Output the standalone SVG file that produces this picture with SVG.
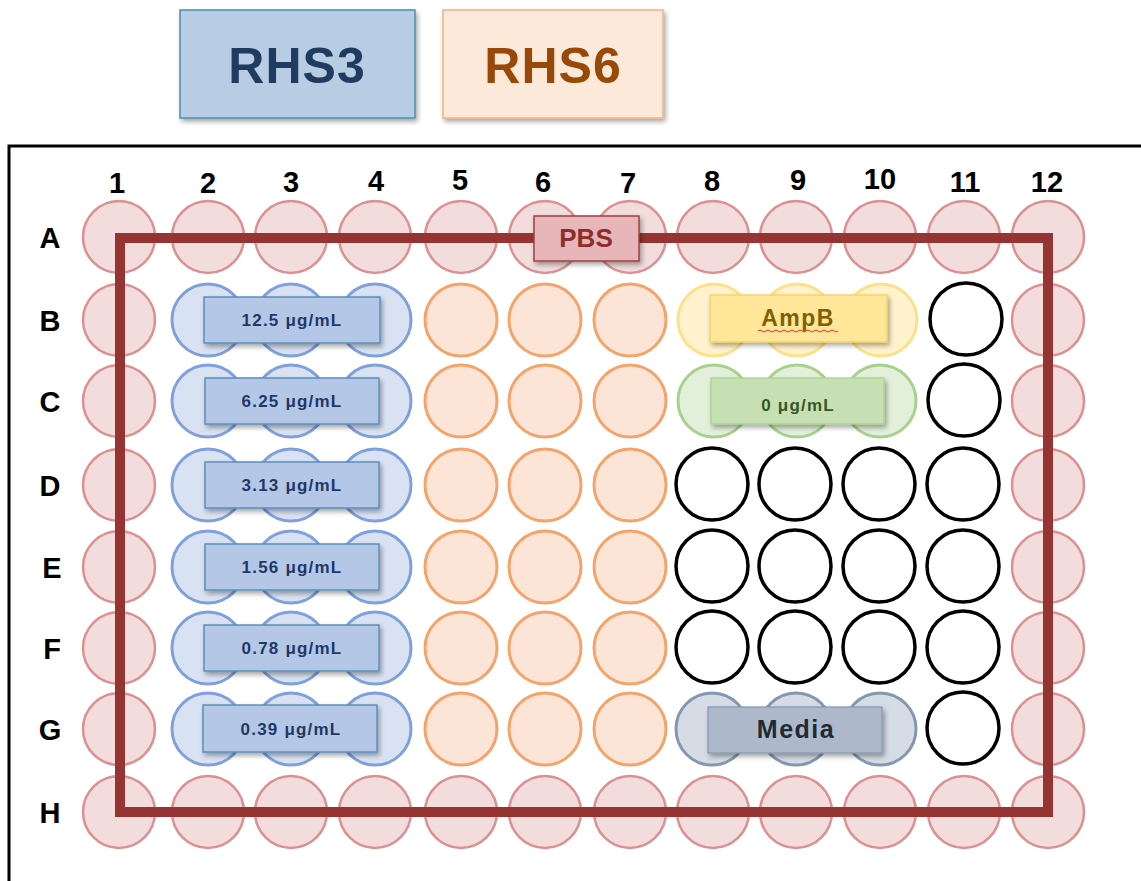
<svg xmlns="http://www.w3.org/2000/svg" width="1141" height="881" viewBox="0 0 1141 881">
<defs>
<filter id="sh" x="-20%" y="-30%" width="140%" height="170%">
<feGaussianBlur in="SourceAlpha" stdDeviation="2.5"/>
<feOffset dx="2" dy="3" result="b"/>
<feComponentTransfer><feFuncA type="linear" slope="0.35"/></feComponentTransfer>
<feMerge><feMergeNode/><feMergeNode in="SourceGraphic"/></feMerge>
</filter>
</defs>
<style>
text{font-family:"Liberation Sans",Arial,sans-serif;font-weight:bold;text-anchor:middle}
.lbl{font-size:29px;fill:#000}
.pk{fill:#f2dcdc;stroke:#dc9090;stroke-width:2.5}
.bl{fill:#d9e2f3;stroke:#7fa0dc;stroke-width:3}
.or{fill:#fce4d6;stroke:#f4a46a;stroke-width:3}
.ye{fill:#fff2cc;stroke:#ffe08a;stroke-width:3}
.gr{fill:#e2efda;stroke:#a9d18e;stroke-width:3}
.me{fill:#d6dce5;stroke:#8497b0;stroke-width:3}
.bk{fill:#fff;stroke:#000;stroke-width:3.5}
.bbox{fill:#b4c7e7;stroke:#5b8fbd;stroke-width:1.5}
.btx{font-size:17px;fill:#1f3864;letter-spacing:1.2px}
</style>
<rect width="1141" height="881" fill="#fff"/>
<g id="legend-rhs3">
<rect x="180" y="10" width="235" height="108" fill="#b8cce4" stroke="#4a90aa" stroke-width="1.5" filter="url(#sh)"/>
<text x="297" y="83" font-size="50" fill="#1f3b60" letter-spacing="1">RHS3</text>
</g>
<g id="legend-rhs6">
<rect x="443" y="10" width="220" height="108" fill="#fde9d9" stroke="#f4b183" stroke-width="1.5" filter="url(#sh)"/>
<text x="553" y="83" font-size="50" fill="#984807" letter-spacing="1">RHS6</text>
</g>
<path id="plate" d="M9,881 V146 H1141" fill="none" stroke="#000" stroke-width="3"/>
<g id="col-labels" class="lbl">
<text class="lbl" x="117" y="193">1</text>
<text class="lbl" x="208" y="193">2</text>
<text class="lbl" x="291" y="192">3</text>
<text class="lbl" x="376" y="191">4</text>
<text class="lbl" x="460" y="190">5</text>
<text class="lbl" x="543" y="192">6</text>
<text class="lbl" x="628" y="193">7</text>
<text class="lbl" x="712" y="191">8</text>
<text class="lbl" x="798" y="190">9</text>
<text class="lbl" x="880" y="189">10</text>
<text class="lbl" x="965" y="192">11</text>
<text class="lbl" x="1047" y="192">12</text>
</g>
<g id="row-labels">
<text class="lbl" x="50" y="248">A</text>
<text class="lbl" x="50" y="331">B</text>
<text class="lbl" x="50" y="412">C</text>
<text class="lbl" x="50" y="496">D</text>
<text class="lbl" x="52" y="578">E</text>
<text class="lbl" x="52" y="659">F</text>
<text class="lbl" x="50" y="740">G</text>
<text class="lbl" x="50" y="823">H</text>
</g>
<g id="pbs-wells">
<circle class="pk" cx="119" cy="237" r="36"/><circle class="pk" cx="208" cy="237" r="36"/><circle class="pk" cx="291" cy="237" r="36"/><circle class="pk" cx="375" cy="237" r="36"/><circle class="pk" cx="461" cy="237" r="36"/><circle class="pk" cx="545" cy="237" r="36"/><circle class="pk" cx="630" cy="237" r="36"/><circle class="pk" cx="713" cy="237" r="36"/><circle class="pk" cx="796" cy="237" r="36"/><circle class="pk" cx="880" cy="237" r="36"/><circle class="pk" cx="964" cy="237" r="36"/><circle class="pk" cx="1048" cy="237" r="36"/>
<circle class="pk" cx="119" cy="812" r="36"/><circle class="pk" cx="208" cy="812" r="36"/><circle class="pk" cx="291" cy="812" r="36"/><circle class="pk" cx="375" cy="812" r="36"/><circle class="pk" cx="461" cy="812" r="36"/><circle class="pk" cx="545" cy="812" r="36"/><circle class="pk" cx="630" cy="812" r="36"/><circle class="pk" cx="713" cy="812" r="36"/><circle class="pk" cx="796" cy="812" r="36"/><circle class="pk" cx="880" cy="812" r="36"/><circle class="pk" cx="964" cy="812" r="36"/><circle class="pk" cx="1048" cy="812" r="36"/>
<circle class="pk" cx="119" cy="320" r="36"/><circle class="pk" cx="119" cy="401" r="36"/><circle class="pk" cx="119" cy="485" r="36"/><circle class="pk" cx="119" cy="567" r="36"/><circle class="pk" cx="119" cy="648" r="36"/><circle class="pk" cx="119" cy="729" r="36"/>
<circle class="pk" cx="1048" cy="320" r="36"/><circle class="pk" cx="1048" cy="401" r="36"/><circle class="pk" cx="1048" cy="485" r="36"/><circle class="pk" cx="1048" cy="567" r="36"/><circle class="pk" cx="1048" cy="648" r="36"/><circle class="pk" cx="1048" cy="729" r="36"/>
</g>
<g id="rhs3-wells">
<circle class="bl" cx="208" cy="320" r="36"/><circle class="bl" cx="291" cy="320" r="36"/><circle class="bl" cx="375" cy="320" r="36"/>
<circle class="bl" cx="208" cy="401" r="36"/><circle class="bl" cx="291" cy="401" r="36"/><circle class="bl" cx="375" cy="401" r="36"/>
<circle class="bl" cx="208" cy="485" r="36"/><circle class="bl" cx="291" cy="485" r="36"/><circle class="bl" cx="375" cy="485" r="36"/>
<circle class="bl" cx="208" cy="567" r="36"/><circle class="bl" cx="291" cy="567" r="36"/><circle class="bl" cx="375" cy="567" r="36"/>
<circle class="bl" cx="208" cy="648" r="36"/><circle class="bl" cx="291" cy="648" r="36"/><circle class="bl" cx="375" cy="648" r="36"/>
<circle class="bl" cx="208" cy="729" r="36"/><circle class="bl" cx="291" cy="729" r="36"/><circle class="bl" cx="375" cy="729" r="36"/>
</g>
<g id="rhs6-wells">
<circle class="or" cx="461" cy="320" r="36"/><circle class="or" cx="545" cy="320" r="36"/><circle class="or" cx="630" cy="320" r="36"/>
<circle class="or" cx="461" cy="401" r="36"/><circle class="or" cx="545" cy="401" r="36"/><circle class="or" cx="630" cy="401" r="36"/>
<circle class="or" cx="461" cy="485" r="36"/><circle class="or" cx="545" cy="485" r="36"/><circle class="or" cx="630" cy="485" r="36"/>
<circle class="or" cx="461" cy="567" r="36"/><circle class="or" cx="545" cy="567" r="36"/><circle class="or" cx="630" cy="567" r="36"/>
<circle class="or" cx="461" cy="648" r="36"/><circle class="or" cx="545" cy="648" r="36"/><circle class="or" cx="630" cy="648" r="36"/>
<circle class="or" cx="461" cy="729" r="36"/><circle class="or" cx="545" cy="729" r="36"/><circle class="or" cx="630" cy="729" r="36"/>
</g>
<g id="ampb-wells">
<circle class="ye" cx="714" cy="320" r="36"/><circle class="ye" cx="797" cy="320" r="36"/><circle class="ye" cx="881" cy="320" r="36"/>
</g>
<g id="zero-wells">
<circle class="gr" cx="714" cy="401" r="36"/><circle class="gr" cx="797" cy="401" r="36"/><circle class="gr" cx="880" cy="401" r="36"/>
</g>
<g id="media-wells">
<circle class="me" cx="712" cy="729" r="36"/><circle class="me" cx="796" cy="729" r="36"/><circle class="me" cx="880" cy="729" r="36"/>
</g>
<g id="empty-wells">
<circle class="bk" cx="966" cy="319" r="36"/><circle class="bk" cx="964" cy="400" r="36"/>
<circle class="bk" cx="712" cy="484" r="36"/><circle class="bk" cx="795" cy="484" r="36"/><circle class="bk" cx="879" cy="484" r="36"/><circle class="bk" cx="963" cy="484" r="36"/>
<circle class="bk" cx="712" cy="566" r="36"/><circle class="bk" cx="795" cy="566" r="36"/><circle class="bk" cx="879" cy="566" r="36"/><circle class="bk" cx="963" cy="566" r="36"/>
<circle class="bk" cx="712" cy="647" r="36"/><circle class="bk" cx="795" cy="647" r="36"/><circle class="bk" cx="879" cy="647" r="36"/><circle class="bk" cx="963" cy="647" r="36"/>
<circle class="bk" cx="963" cy="728" r="36"/>
</g>
<g id="connectors">
<rect x="120" y="238" width="928" height="574" fill="none" stroke="#963434" stroke-width="10"/>
</g>
<g id="pbs-label">
<rect x="534" y="216" width="105" height="45" fill="#e6b6b8" stroke="#a33f42" stroke-width="1.5" filter="url(#sh)"/>
<text x="586" y="247" font-size="26" fill="#8f2d2d">PBS</text>
</g>
<g id="conc-12-5"><rect class="bbox" x="204" y="297" width="176" height="46" filter="url(#sh)"/><text class="btx" x="292" y="326">12.5 μg/mL</text></g>
<g id="conc-6-25"><rect class="bbox" x="205" y="378" width="174" height="46" filter="url(#sh)"/><text class="btx" x="292" y="407">6.25 μg/mL</text></g>
<g id="conc-3-13"><rect class="bbox" x="205" y="462" width="174" height="46" filter="url(#sh)"/><text class="btx" x="292" y="491">3.13 μg/mL</text></g>
<g id="conc-1-56"><rect class="bbox" x="205" y="544" width="174" height="46" filter="url(#sh)"/><text class="btx" x="292" y="573">1.56 μg/mL</text></g>
<g id="conc-0-78"><rect class="bbox" x="204" y="625" width="175" height="46" filter="url(#sh)"/><text class="btx" x="292" y="654">0.78 μg/mL</text></g>
<g id="conc-0-39"><rect class="bbox" x="203" y="705" width="174" height="47" filter="url(#sh)"/><text class="btx" x="291" y="735">0.39 μg/mL</text></g>
<g id="ampb-label">
<rect x="710" y="295" width="177" height="47" fill="#ffe699" stroke="#f5cf5a" stroke-width="1.2" filter="url(#sh)"/>
<text x="798" y="326" font-size="23" fill="#7f6000" letter-spacing="1.5">AmpB</text>
<path d="M758,331 q2,-2 4,0 t4,0 t4,0 t4,0 t4,0 t4,0 t4,0 t4,0 t4,0 t4,0 t4,0 t4,0 t4,0 t4,0 t4,0 t4,0 t4,0 t4,0 t4,0 t4,0" fill="none" stroke="#e03030" stroke-width="1"/>
</g>
<g id="zero-label">
<rect x="711" y="378" width="173" height="46" fill="#c6e0b4" stroke="#a9d18e" stroke-width="1.2" filter="url(#sh)"/>
<text x="798" y="411" font-size="17" fill="#375623" letter-spacing="1.2">0 μg/mL</text>
</g>
<g id="media-label">
<rect x="708" y="707" width="174" height="46" fill="#adb9ca" stroke="#8497b0" stroke-width="1.2" filter="url(#sh)"/>
<text x="796" y="738" font-size="25" fill="#222a35" letter-spacing="1.5">Media</text>
</g>
</svg>
